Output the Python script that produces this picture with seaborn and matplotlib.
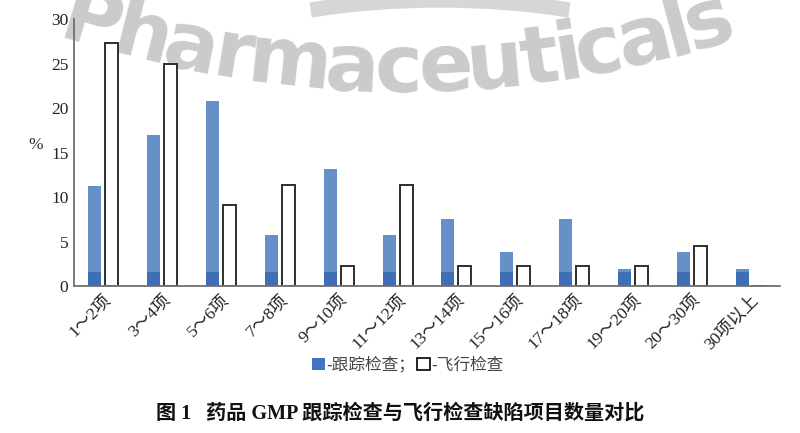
import numpy as np
import pandas as pd
import matplotlib
matplotlib.use("Agg")
import matplotlib.pyplot as plt
from matplotlib.patches import Patch, Arc
from matplotlib.textpath import TextPath
from matplotlib.font_manager import FontProperties
import seaborn as sns

# datos (% de inspecciones por numero de defectos)
categorias = ['1～2项', '3～4项', '5～6项', '7～8项', '9～10项', '11～12项',
              '13～14项', '15～16项', '17～18项', '19～20项', '20～30项', '30项以上']
seguimiento = [11.3, 17.0, 20.8, 5.7, 13.2, 5.7, 7.5, 3.8, 7.5, 1.9, 3.8, 1.9]
vuelo = [27.3, 25.0, 9.1, 11.4, 2.3, 11.4, 2.3, 2.3, 2.3, 2.3, 4.5, 0.0]
series = ['跟踪检查', '飞行检查']

df = pd.DataFrame({
    'item': categorias * 2,
    'tipo': [series[0]] * len(categorias) + [series[1]] * len(categorias),
    'pct': seguimiento + vuelo,
})

sns.set_style('white')
serif = ['Liberation Serif', 'Noto Sans CJK SC']
plt.rcParams['font.family'] = serif

fig = plt.figure(figsize=(8, 4.33), dpi=100)

# marca de agua
W, H = 800, 433
wm = 'Pharmaceuticals'
fp = FontProperties(family='DejaVu Sans', weight='bold', size=58)
anchos = [TextPath((0, 0), c, size=1, prop=fp).get_extents().width + 0.04 for c in wm]
anchos = np.array(anchos) / sum(anchos) * 680
xs = 58 + np.cumsum(anchos) - anchos / 2
# arco: izquierda alta, centro bajo, derecha alta
a, b, c = np.polyfit([70, 400, 730], [40, 92, 40], 2)
for ch, x in zip(wm, xs):
    yb = a * x**2 + b * x + c
    ang = -np.degrees(np.arctan(2 * a * x + b))
    fig.text(x / W, 1 - yb / H, ch, fontproperties=fp,
             color='#cbcbcb', ha='center', va='baseline', rotation=ang,
             rotation_mode='anchor', zorder=0)
fig.patches.append(Arc((440 / W, 1 - 110 / H), 620 / W, 220 / H, theta1=55, theta2=125,
                       transform=fig.transFigure, color='#d6d6d6', lw=11, zorder=0))

ax = fig.add_axes([0.0925, 0.339, 0.8825, 0.617])
ax.set_facecolor('none')
ax.set_zorder(2)

sns.barplot(data=df, x='item', y='pct', hue='tipo', order=categorias, hue_order=series,
            palette={series[0]: '#6690C8', series[1]: 'white'}, saturation=1,
            width=0.58, gap=0.24, legend=False, ax=ax)

for p in ax.containers[0]:
    p.set_edgecolor('none')
    p.set_linewidth(0)
for p in ax.containers[1]:
    p.set_edgecolor('#2e2e2e')
    p.set_linewidth(1.4)

# franja inferior mas oscura
banda = 1.6
for p in list(ax.containers[0]):
    ax.bar(p.get_x() + p.get_width() / 2, min(p.get_height(), banda),
           width=p.get_width(), color='#3D6EB6', linewidth=0)

ax.set_xlim(-0.5, 11.5)
ax.set_ylim(0, 30)
ax.set_yticks(range(0, 31, 5))
ax.set_xlabel('')
ax.set_ylabel('%', rotation=0, fontsize=12.5, color='#333333')
ax.yaxis.set_label_coords(-0.054, 0.5)

for s in ['top', 'right']:
    ax.spines[s].set_visible(False)
for s in ['left', 'bottom']:
    ax.spines[s].set_color('#707070')
    ax.spines[s].set_linewidth(1.3)

ax.tick_params(axis='y', direction='in', length=4, color='#707070', labelsize=12.5,
               labelcolor='#222222', pad=4)
ax.tick_params(axis='x', length=0, labelsize=12.5, labelcolor='#222222', pad=4)
plt.setp(ax.get_xticklabels(), rotation=45, ha='right', va='top', rotation_mode='anchor')

handles = [Patch(facecolor='#4472C4', edgecolor='none'),
           Patch(facecolor='white', edgecolor='#111111', linewidth=1.3)]
fig.legend(handles, ['-跟踪检查；', '-飞行检查'], loc='center', bbox_to_anchor=(0.51, 0.157),
           ncol=2, frameon=False, handlelength=0.75, handleheight=0.75, handletextpad=0.1,
           columnspacing=0.1, prop={'family': ['Noto Sans CJK SC'], 'size': 12},
           labelcolor='#444444')

fig.text(0.5, 0.046, '图 1   药品 GMP 跟踪检查与飞行检查缺陷项目数量对比', ha='center',
         va='center', fontsize=14.5, fontweight='bold', color='#111111',
         family=['Liberation Serif', 'Noto Sans CJK SC'])

fig.savefig('out.png', dpi=100)
